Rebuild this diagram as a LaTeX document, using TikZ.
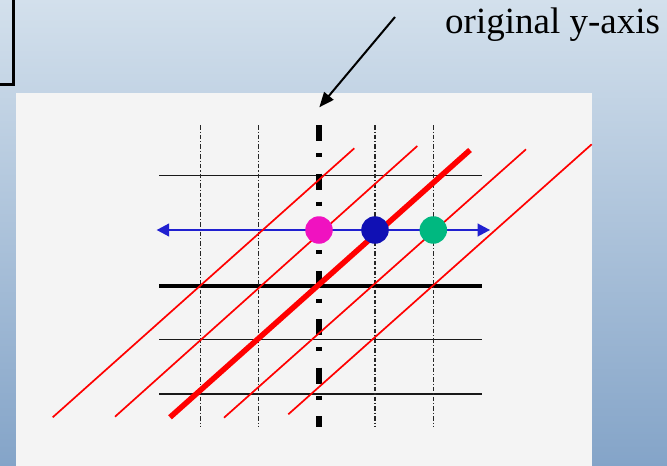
\documentclass[tikz,border=0pt]{standalone}
\usepackage{fontspec}
\setmainfont{Liberation Serif}
\usepackage{tikz}
\usetikzlibrary{arrows.meta}
\definecolor{bgtop}{HTML}{D3E0EC}
\definecolor{bgbot}{HTML}{84A4C8}
\definecolor{panelgray}{HTML}{F4F4F4}
\definecolor{pinkdot}{HTML}{F012C0}
\definecolor{bluedot}{HTML}{1010B4}
\definecolor{greendot}{HTML}{00B880}
\definecolor{arrowblue}{HTML}{2020D0}

\begin{document}
\begin{tikzpicture}[x=1pt,y=-1pt,
  gridline/.style={draw=black!90,line width=1.6pt},
  dashdotline/.style={draw=black!85,line width=1.4pt,dash pattern=on 4.5pt off 2pt on 1.2pt off 2pt},
  redline/.style={draw=red,line width=1.7pt},
  ptnode/.style={circle,minimum size=27.5pt,inner sep=0pt}]
\useasboundingbox (0,0) rectangle (667,466);
\clip (0,0) rectangle (667,466);
\shade[top color=bgtop,bottom color=bgbot] (0,0) rectangle (667,466);
\draw[line width=3pt] (-10,-10) rectangle (13.5,84);
\fill[panelgray] (16,93) rectangle (591.7,470);
% grid
\draw[gridline] (159.3,175.3) -- (482.3,175.3);
\draw[gridline,draw=black,line width=4.3pt] (159.3,286) -- (482.3,286);
\draw[gridline] (159.3,339.3) -- (482.3,339.3);
\draw[gridline] (159.3,394) -- (482.3,394);
\draw[dashdotline] (200.5,125) -- (200.5,427);
\draw[dashdotline] (258.7,125) -- (258.7,427);
\draw[dashdotline] (375,125) -- (375,427);
\draw[dashdotline] (433.3,125) -- (433.3,427);
\draw[line width=5.5pt,dash pattern=on 16pt off 12pt on 4pt off 16.5pt] (319,125) -- (319,427);
\draw[arrowblue,line width=1.3pt,{Triangle[length=12.5pt,width=13pt]}-{Triangle[length=12.5pt,width=13pt]}] (156.7,230) -- (490,230);
% skewed lines
\draw[redline] (52.7,417.3) -- (354.3,148.3);
\draw[redline] (115,416.7) -- (417.3,146);
\draw[redline,line width=5.5pt] (170,417.3) -- (470,150);
\draw[redline] (224,417.7) -- (526,149.3);
\draw[redline] (288.3,414.3) -- (591.7,144.3);
\node[ptnode,fill=pinkdot] (pink) at (319,230) {};
\node[ptnode,fill=bluedot] (blue) at (375,230) {};
\node[ptnode,fill=greendot] (green) at (433.3,230) {};
\node[anchor=base west,inner sep=0pt,font=\fontsize{37}{40}\selectfont] (lbl) at (445,33) {original y-axis};
\coordinate (arrtail) at (395,17);
\coordinate (axtop) at (319.3,107.3);
\draw[line width=2pt,-{Triangle[length=15pt,width=12pt]}] (arrtail) -- (axtop);
\end{tikzpicture}
\end{document}
